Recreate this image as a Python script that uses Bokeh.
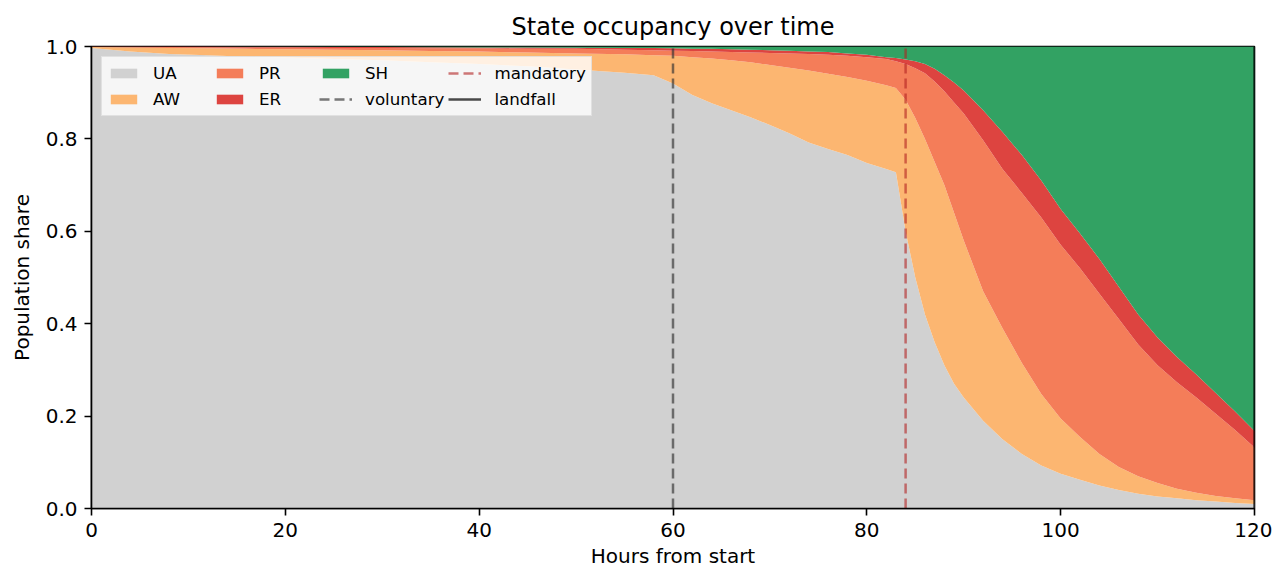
from bokeh.plotting import figure
from bokeh.models import ColumnDataSource, Legend, LegendItem, FixedTicker, NumeralTickFormatter, Range1d
from bokeh.embed import file_html
from bokeh.resources import INLINE

# hours from start and share of population in each state
hours = [0, 4, 8, 12, 16, 20, 25, 30, 35, 40, 45, 50, 55, 58, 60, 62, 64, 66, 68, 70,
         72, 74, 76, 78, 80, 82, 83, 84, 85, 86, 87, 88, 89, 90, 92, 94, 96, 98, 100,
         102, 104, 106, 108, 110, 112, 114, 116, 118, 120]
ua = [.997, .989, .984, .981, .978, .976, .973, .970, .966, .962, .957, .950, .943, .938, .920,
      .895, .877, .862, .847, .830, .812, .792, .778, .765, .748, .735, .728, .600, .500, .420,
      .360, .310, .270, .240, .190, .150, .118, .093, .075, .062, .050, .040, .032, .026, .022,
      .018, .015, .012, .010]
aw = [.002, .009, .013, .015, .017, .018, .020, .022, .024, .027, .030, .035, .040, .043, .060,
      .082, .097, .108, .119, .130, .142, .156, .163, .169, .178, .181, .182, .285, .345, .380,
      .390, .390, .370, .340, .280, .240, .197, .155, .120, .093, .068, .050, .038, .029, .021,
      .016, .012, .010, .008]
pr = [.0005, .0012, .002, .0025, .003, .004, .004, .005, .006, .007, .008, .010, .010, .011, .011,
      .013, .015, .018, .021, .026, .031, .036, .041, .046, .051, .057, .058, .077, .108, .142,
      .174, .203, .239, .275, .327, .345, .368, .382, .376, .365, .347, .320, .285, .255, .230,
      .206, .178, .148, .114]
er = [.0005, .0008, .001, .0013, .0016, .0014, .002, .002, .0025, .002, .003, .0025, .004, .005, .005,
      .005, .006, .006, .006, .006, .006, .005, .006, .005, .005, .004, .007, .010, .015, .020,
      .028, .035, .043, .050, .065, .080, .082, .080, .077, .075, .075, .070, .065, .060, .055,
      .050, .045, .040, .036]
sh = [0, 0, 0, .0002, .0004, .0006, .001, .001, .0015, .002, .002, .0025, .003, .003, .004,
      .005, .005, .006, .007, .008, .009, .011, .012, .015, .018, .023, .025, .028, .032, .038,
      .048, .062, .078, .095, .138, .185, .235, .290, .352, .405, .460, .520, .580, .630, .672,
      .710, .750, .790, .832]

states = ["UA", "AW", "PR", "ER", "SH"]
state_colors = ["#d1d1d1", "#fcb671", "#f47d59", "#dd4440", "#32a263"]

event_names = ["voluntary", "mandatory", "landfall"]
event_hours = [60, 84, 120]
event_colors = ["#333333", "#b22222", "#000000"]
event_dash = ["10 5", "10 5", "solid"]
event_alpha = [0.65, 0.6, 0.7]

x_ticks = [0, 20, 40, 60, 80, 100, 120]
y_ticks = [0, 0.2, 0.4, 0.6, 0.8, 1.0]

source = ColumnDataSource(dict(hours=hours, UA=ua, AW=aw, PR=pr, ER=er, SH=sh))

p = figure(width=1272, height=570, output_backend="svg", toolbar_location=None,
           title="State occupancy over time",
           x_range=Range1d(0, 120), y_range=Range1d(0, 1),
           min_border_left=91, min_border_right=18, min_border_top=46, min_border_bottom=62)

areas = p.varea_stack(stackers=states, x="hours", color=state_colors, source=source)

lines = []
for name, h, c, d, a in zip(event_names, event_hours, event_colors, event_dash, event_alpha):
    r = p.segment(x0=[h], y0=[0], x1=[h], y1=[1], line_color=c, line_dash=d,
                  line_width=2.5, line_alpha=a)
    lines.append(r)

items = [LegendItem(label=s, renderers=[r]) for s, r in zip(states, areas)]
items += [LegendItem(label=n, renderers=[r]) for n, r in zip(event_names, lines)]
legend = Legend(items=items, location="top_left", orientation="vertical", nrows=2,
                label_text_font="DejaVu Sans", label_text_font_size="16.7px",
                label_text_color="black",
                glyph_width=33, glyph_height=12, label_standoff=13, spacing=4,
                label_width=56, label_height=22, padding=5, margin=10,
                background_fill_alpha=0.8, border_line_color="#cccccc")
p.add_layout(legend)

p.title.text_font = "DejaVu Sans"
p.title.text_font_size = "24px"
p.title.text_font_style = "normal"
p.title.text_color = "black"
p.title.align = "center"
p.title.standoff = 12

p.xaxis.axis_label = "Hours from start"
p.yaxis.axis_label = "Population share"
p.xaxis.ticker = FixedTicker(ticks=x_ticks)
p.yaxis.ticker = FixedTicker(ticks=y_ticks)
p.yaxis.formatter = NumeralTickFormatter(format="0.0")
for ax in p.xaxis + p.yaxis:
    ax.axis_label_text_font = "DejaVu Sans"
    ax.axis_label_text_font_size = "20px"
    ax.axis_label_text_font_style = "normal"
    ax.axis_label_text_color = "black"
    ax.major_label_text_font = "DejaVu Sans"
    ax.major_label_text_font_size = "20px"
    ax.major_label_text_color = "black"
    ax.major_tick_out = 7
    ax.major_tick_in = 0
    ax.minor_tick_out = 0
    ax.minor_tick_in = 0
    ax.axis_line_color = "black"
    ax.axis_line_width = 1.6
    ax.major_tick_line_width = 1.6
    ax.major_tick_line_color = "black"
    ax.major_label_standoff = 7
p.xaxis.axis_label_standoff = 4
p.yaxis.axis_label_standoff = 9

p.xgrid.visible = False
p.ygrid.visible = False
p.outline_line_color = "black"
p.outline_line_width = 1.6
p.outline_line_alpha = 1

open("out.html", "w").write(file_html(p, INLINE))
